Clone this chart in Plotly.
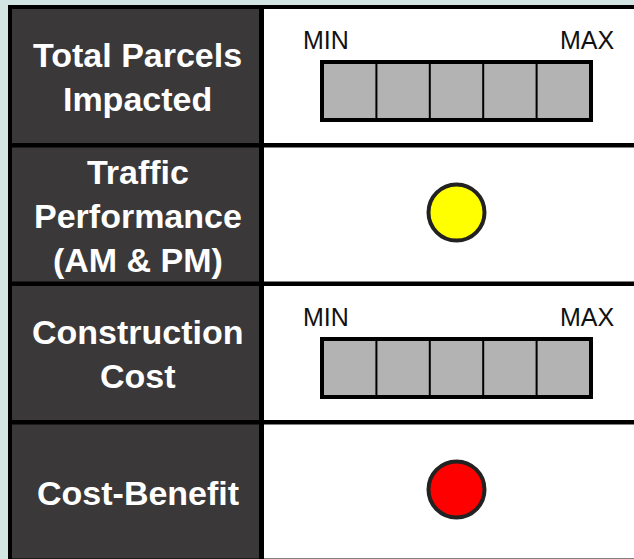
import plotly.graph_objects as go

# ---- data ----
criteria_lines = [
    ["Total Parcels", "Impacted"],
    ["Traffic", "Performance", "(AM & PM)"],
    ["Construction", "Cost"],
    ["Cost-Benefit"],
]
indicator_type = ["scale", "circle", "scale", "circle"]
circle_colors = [None, "#ffff00", None, "#ff0000"]
scale_labels = ["MIN", "MAX"]
n_cells = 5

# ---- style / layout constants ----
W, H = 634, 559
BG = "#d2e5e3"
DARK = "#3a3839"
GREY = "#b3b3b3"
ROW_TOP0 = 9
ROW_PITCH = 138.5
ROW_H = 134
LEFT_X0, LEFT_X1 = 12, 259
RIGHT_X0, RIGHT_X1 = 264, 700
GAUGE_X0, GAUGE_X1 = 320, 593
GAUGE_DY0, GAUGE_DY1 = 51, 113
CENTER_X = (GAUGE_X0 + GAUGE_X1) / 2
FONT = "Liberation Sans, Arial, sans-serif"

shapes = []
annotations = []

# outer black frame
shapes.append(dict(type="rect", x0=8, x1=RIGHT_X1, y0=5, y1=H + 50,
                   fillcolor="black", line=dict(width=0), layer="below"))

circ_x, circ_y, circ_c = [], [], []

for i, lines in enumerate(criteria_lines):
    top = ROW_TOP0 + i * ROW_PITCH
    bot = top + ROW_H
    mid = (top + bot) / 2
    shapes.append(dict(type="rect", x0=LEFT_X0, x1=LEFT_X1, y0=top, y1=bot,
                       fillcolor=DARK, line=dict(width=0), layer="below"))
    shapes.append(dict(type="rect", x0=RIGHT_X0, x1=RIGHT_X1, y0=top, y1=bot,
                       fillcolor="white", line=dict(width=0), layer="below"))
    annotations.append(dict(
        x=(LEFT_X0 + LEFT_X1) / 2 + 2, y=mid + 1, xref="x", yref="y",
        text="<br>".join(lines), showarrow=False,
        font=dict(family=FONT, size=34, color="white", weight="bold"),
        xanchor="center", yanchor="middle", align="center"))
    if indicator_type[i] == "scale":
        g0, g1 = top + GAUGE_DY0, top + GAUGE_DY1
        shapes.append(dict(type="rect", x0=GAUGE_X0, x1=GAUGE_X1, y0=g0, y1=g1,
                           fillcolor="black", line=dict(width=0)))
        inner0, inner1 = GAUGE_X0 + 4, GAUGE_X1 - 4
        div = 2
        cw = (inner1 - inner0 - div * (n_cells - 1)) / n_cells
        for k in range(n_cells):
            cx0 = inner0 + k * (cw + div)
            shapes.append(dict(type="rect", x0=cx0, x1=cx0 + cw, y0=g0 + 4, y1=g1 - 4,
                               fillcolor=GREY, line=dict(width=0)))
        annotations.append(dict(x=GAUGE_X0 - 19, y=top + 31, xref="x", yref="y",
                                text=scale_labels[0], showarrow=False,
                                font=dict(family=FONT, size=25, color="#111"),
                                xanchor="left", yanchor="middle"))
        annotations.append(dict(x=GAUGE_X1 + 24, y=top + 31, xref="x", yref="y",
                                text=scale_labels[1], showarrow=False,
                                font=dict(family=FONT, size=25, color="#111"),
                                xanchor="right", yanchor="middle"))
    else:
        circ_x.append(CENTER_X)
        circ_y.append(top + 65)
        circ_c.append(circle_colors[i])

fig = go.Figure()
fig.add_trace(go.Scatter(
    x=circ_x, y=circ_y, mode="markers",
    marker=dict(size=56, color=circ_c, line=dict(color="#222", width=4)),
    hoverinfo="skip", showlegend=False))

fig.update_layout(
    width=W, height=H, margin=dict(l=0, r=0, t=0, b=0),
    paper_bgcolor=BG, plot_bgcolor=BG,
    xaxis=dict(range=[0, W], visible=False, fixedrange=True),
    yaxis=dict(range=[H, 0], visible=False, fixedrange=True),
    shapes=shapes, annotations=annotations, showlegend=False,
)
fig.write_html(
    "out.html",
    config={"displayModeBar": False},
    post_script="document.body.style.margin='0';document.body.style.overflow='hidden';",
)
